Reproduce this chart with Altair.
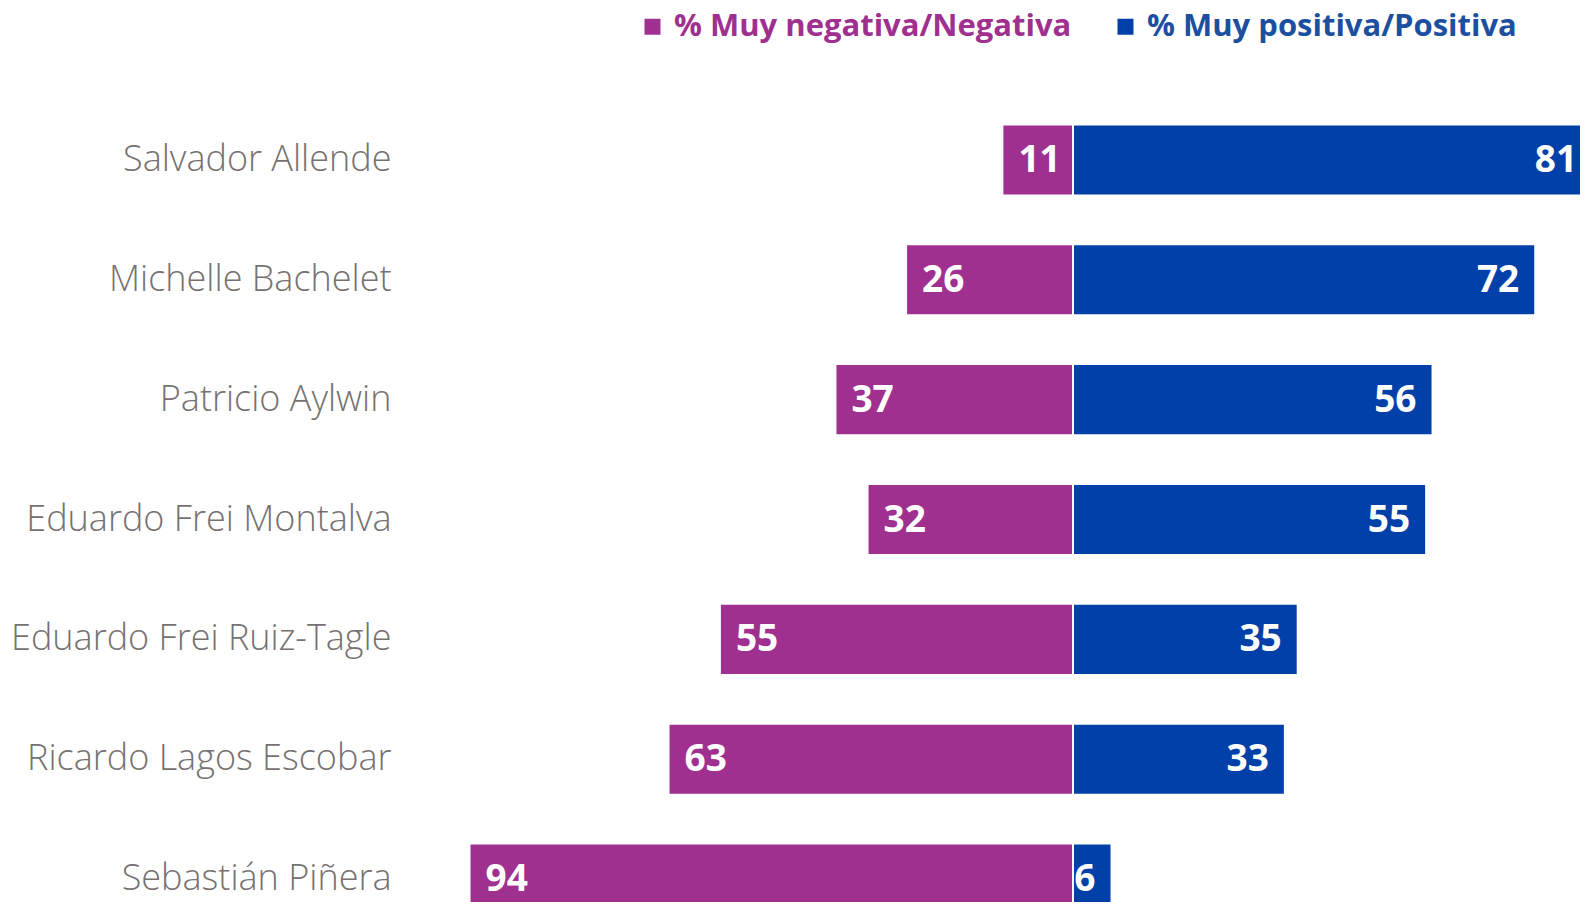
import altair as alt
import pandas as pd

names = ["Salvador Allende", "Michelle Bachelet", "Patricio Aylwin", "Eduardo Frei Montalva",
         "Eduardo Frei Ruiz-Tagle", "Ricardo Lagos Escobar", "Sebastián Piñera"]
negativa = [11, 26, 37, 32, 55, 63, 94]
positiva = [81, 72, 56, 55, 35, 33, 6]
series = ["% Muy negativa/Negativa", "% Muy positiva/Positiva"]
colors = ["#a0308f", "#0040a8"]

rows = []
for n, ng, ps in zip(names, negativa, positiva):
    rows.append({"name": n, "serie": series[0], "lo": -ng, "hi": 0, "val": ng})
    rows.append({"name": n, "serie": series[1], "lo": 0, "hi": ps, "val": ps})
df = pd.DataFrame(rows)

xscale = alt.Scale(domain=[-104.36, 78.97], nice=False, zero=False)
yscale = alt.Scale(domain=names, range=[92, 931], paddingInner=0.407, paddingOuter=0.2035)

base = alt.Chart(df)

bars = base.mark_bar(clip=True, stroke="white", strokeWidth=2).encode(
    y=alt.Y("name:N", scale=yscale, sort=names,
            axis=alt.Axis(title=None, domain=False, ticks=False, tickSize=0, labelPadding=12,
                          labelFont="Open Sans", labelFontSize=36, labelFontWeight=300,
                          labelColor="#767171", labelLimit=500)),
    x=alt.X("lo:Q", scale=xscale, axis=None),
    x2="hi:Q",
    color=alt.Color("serie:N", scale=alt.Scale(domain=series, range=colors),
                    legend=alt.Legend(title=None, orient="none", legendX=234, legendY=3,
                                      direction="horizontal", symbolType="square",
                                      symbolSize=256, symbolStrokeWidth=0, labelOffset=6,
                                      columnPadding=38, labelFont="Open Sans",
                                      labelFontSize=31, labelFontWeight="bold",
                                      labelLimit=600,
                                      labelColor=alt.ExprRef(
                                          "datum.label == '% Muy negativa/Negativa' ? '#a0308f' : '#1d4fa0'"))),
)

txt_neg = base.transform_filter(alt.datum.serie == series[0]).mark_text(
    align="left", baseline="middle", dx=16, dy=1, color="white", font="Open Sans",
    fontSize=37, fontWeight="bold").encode(
    y=alt.Y("name:N", scale=yscale, sort=names),
    x=alt.X("lo:Q", scale=xscale),
    text="val:Q",
)

txt_pos = base.transform_filter(alt.datum.serie == series[1]).mark_text(
    align="right", baseline="middle", dx=-16, dy=1, color="white", font="Open Sans",
    fontSize=37, fontWeight="bold").encode(
    y=alt.Y("name:N", scale=yscale, sort=names),
    x=alt.X("hi:Q", scale=xscale),
    text="val:Q",
)

chart = alt.layer(bars, txt_neg, txt_pos).properties(
    width=1177, height=894, autosize="none",
    padding={"left": 395, "top": 0, "right": 0, "bottom": 0},
).configure_view(stroke=None)

chart.save("out.html", embed_options={"renderer": "svg", "actions": False})
